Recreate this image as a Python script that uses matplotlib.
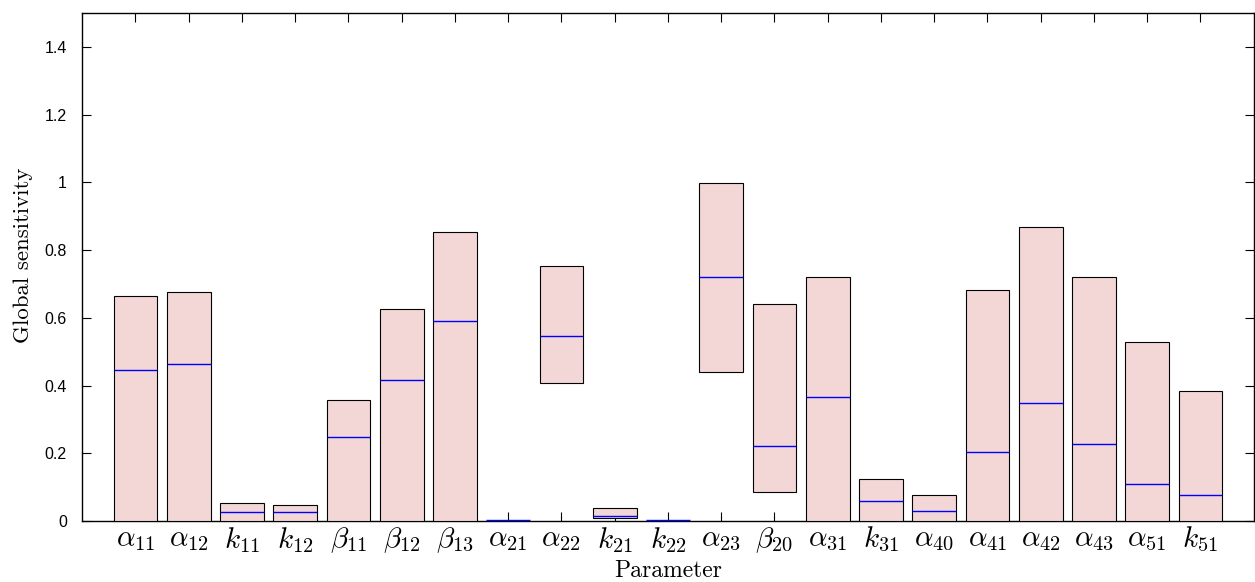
import matplotlib
matplotlib.use("Agg")
import matplotlib.pyplot as plt
import numpy as np
from matplotlib.ticker import FuncFormatter

# Parameter names and sensitivity ranges (low, median, high).
params = [r"$\alpha_{11}$", r"$\alpha_{12}$", r"$k_{11}$", r"$k_{12}$",
          r"$\beta_{11}$", r"$\beta_{12}$", r"$\beta_{13}$", r"$\alpha_{21}$",
          r"$\alpha_{22}$", r"$k_{21}$", r"$k_{22}$", r"$\alpha_{23}$",
          r"$\beta_{20}$", r"$\alpha_{31}$", r"$k_{31}$", r"$\alpha_{40}$",
          r"$\alpha_{41}$", r"$\alpha_{42}$", r"$\alpha_{43}$", r"$\alpha_{51}$",
          r"$k_{51}$"]
low = [0.0, 0.0, 0.0, 0.0, 0.0, 0.0, 0.0, 0.0,
       0.406, 0.008, 0.0, 0.441, 0.085, 0.0, 0.0, 0.0,
       0.0, 0.0, 0.0, 0.0, 0.0]
median = [0.447, 0.464, 0.026, 0.026, 0.248, 0.415, 0.589, 0.002,
          0.545, 0.016, 0.002, 0.719, 0.222, 0.365, 0.060, 0.031,
          0.204, 0.349, 0.226, 0.108, 0.078]
high = [0.665, 0.676, 0.052, 0.047, 0.358, 0.625, 0.854, 0.0,
        0.754, 0.037, 0.0, 0.997, 0.641, 0.719, 0.123, 0.077,
        0.683, 0.869, 0.720, 0.527, 0.384]
yticks = [0, 0.2, 0.4, 0.6, 0.8, 1.0, 1.2, 1.4]

plt.rcParams["mathtext.fontset"] = "cm"

x = np.arange(1, len(params) + 1)
low_np = np.array(low)
high_np = np.array(high)
width = 0.82

fig = plt.figure(figsize=(12.55, 5.82), dpi=100)
ax = fig.add_axes([0.0655, 0.1048, 0.9335, 0.873])

ax.bar(x, high_np - low_np, bottom=low_np, width=width, color="#f3d7d7",
       edgecolor="black", linewidth=0.8, zorder=3)
ax.hlines(median, x - width / 2, x + width / 2, color="blue", linewidth=1,
          zorder=4)

ax.set_xlim(0, len(params) + 1)
ax.set_ylim(0, 1.5)
ax.set_xticks(x)
ax.set_xticklabels(params, fontsize=21)
ax.set_yticks(yticks)
ax.yaxis.set_major_formatter(FuncFormatter(lambda v, p: "%g" % v))
for lab in ax.get_yticklabels():
    lab.set_family("Liberation Sans")
    lab.set_fontsize(11.5)
ax.tick_params(direction="in", top=True, right=True, length=6.5, width=0.8)
ax.tick_params(axis="x", pad=3)
ax.tick_params(axis="y", pad=11)
for s in ax.spines.values():
    s.set_linewidth(1)

ax.set_xlabel("Parameter", family="cmr10", fontsize=17, va="top")
ax.xaxis.set_label_coords(0.5, -0.077)
ax.set_ylabel("Global sensitivity", family="cmr10", fontsize=16.5,
              va="center")
ax.yaxis.set_label_coords(-0.0505, 0.522)

fig.savefig("out.png", dpi=100)
